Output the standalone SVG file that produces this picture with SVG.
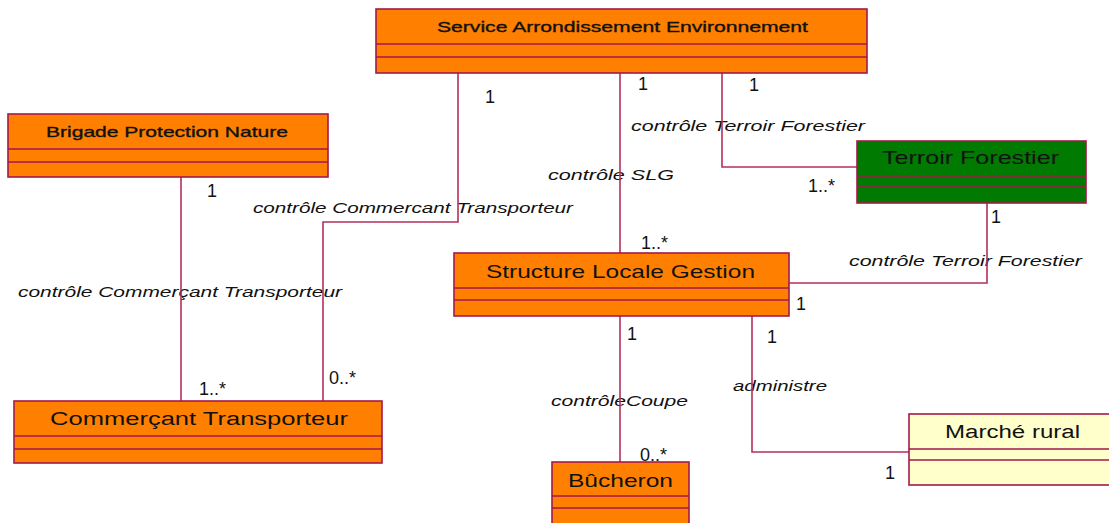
<svg xmlns="http://www.w3.org/2000/svg" width="1109" height="523" viewBox="0 0 1109 523">
  <style>
    .box { stroke: #A3194B; stroke-width: 1.6; }
    .orange { fill: #FF8000; }
    .green { fill: #007A00; }
    .yellow { fill: #FFFFCC; }
    .sep { stroke: #A3194B; stroke-width: 1.6; fill: none; }
    .title { font-family: "Liberation Sans", Arial, sans-serif; fill: #111; text-anchor: start; }
    .small { font-size: 15px; stroke: #111; stroke-width: 0.35; }
    .assoc { font-family: "Liberation Sans", Arial, sans-serif; font-style: italic; font-size: 14px; fill: #111; }
    .mult { font-family: "Liberation Sans", Arial, sans-serif; font-size: 18px; fill: #111; }
    .link { stroke: #B3305D; stroke-width: 1.6; fill: none; }
  </style>
  <rect width="1109" height="523" fill="#FFFFFF"/>

  <!-- association labels (drawn beneath the connectors) -->
  <g id="labels">
    <text class="assoc" x="631" y="131" textLength="234" lengthAdjust="spacingAndGlyphs">contrôle  Terroir Forestier</text>
    <text class="assoc" x="548" y="180" textLength="126" lengthAdjust="spacingAndGlyphs">contrôle  SLG</text>
    <text class="assoc" x="253" y="213" textLength="320" lengthAdjust="spacingAndGlyphs">contrôle  Commercant Transporteur</text>
    <text class="assoc" x="18" y="297" textLength="324" lengthAdjust="spacingAndGlyphs">contrôle  Commerçant Transporteur</text>
    <text class="assoc" x="849" y="266" textLength="233" lengthAdjust="spacingAndGlyphs">contrôle  Terroir Forestier</text>
    <text class="assoc" x="733" y="391" textLength="94" lengthAdjust="spacingAndGlyphs">administre</text>
    <text class="assoc" x="551" y="406" textLength="137" lengthAdjust="spacingAndGlyphs">contrôleCoupe</text>
  </g>

  <!-- connectors -->
  <g id="connectors">
    <path class="link" d="M458,73 V222 H323 V401"/>
    <path class="link" d="M181,177 V401"/>
    <path class="link" d="M620,73 V253"/>
    <path class="link" d="M722,73 V167 H857"/>
    <path class="link" d="M987,203 V283 H789"/>
    <path class="link" d="M620,316 V462"/>
    <path class="link" d="M752,316 V452 H909"/>
  </g>

  <!-- multiplicities -->
  <g id="multiplicities">
    <text class="mult" x="485" y="103">1</text>
    <text class="mult" x="638" y="90">1</text>
    <text class="mult" x="749" y="91">1</text>
    <text class="mult" x="207" y="197">1</text>
    <text class="mult" x="808" y="192">1..*</text>
    <text class="mult" x="991" y="223">1</text>
    <text class="mult" x="641" y="249">1..*</text>
    <text class="mult" x="796" y="310">1</text>
    <text class="mult" x="627" y="340">1</text>
    <text class="mult" x="767" y="343">1</text>
    <text class="mult" x="199" y="395">1..*</text>
    <text class="mult" x="329" y="384">0..*</text>
    <text class="mult" x="640" y="461">0..*</text>
    <text class="mult" x="885" y="479">1</text>
  </g>

  <g id="service-arrondissement">
    <rect class="box orange" x="376" y="9" width="491" height="64"/>
    <path class="sep" d="M376,44 H867 M376,57 H867"/>
    <text class="title small" x="437" y="32" textLength="371" lengthAdjust="spacingAndGlyphs">Service Arrondissement Environnement</text>
  </g>

  <g id="brigade-protection">
    <rect class="box orange" x="8" y="114" width="320" height="63"/>
    <path class="sep" d="M8,149 H328 M8,162 H328"/>
    <text class="title small" x="46" y="137" textLength="242" lengthAdjust="spacingAndGlyphs">Brigade Protection Nature</text>
  </g>

  <g id="terroir-forestier">
    <rect class="box green" x="857" y="141" width="229" height="62"/>
    <path class="sep" d="M857,176 H1086 M857,187 H1086"/>
    <text class="title" x="882" y="164" font-size="19" textLength="177" lengthAdjust="spacingAndGlyphs">Terroir Forestier</text>
  </g>

  <g id="structure-locale">
    <rect class="box orange" x="454" y="253" width="335" height="63"/>
    <path class="sep" d="M454,288 H789 M454,300 H789"/>
    <text class="title" x="486" y="278" font-size="19" textLength="269" lengthAdjust="spacingAndGlyphs">Structure Locale Gestion</text>
  </g>

  <g id="commercant-transporteur">
    <rect class="box orange" x="14" y="401" width="368" height="62"/>
    <path class="sep" d="M14,436 H382 M14,449 H382"/>
    <text class="title" x="50" y="425" font-size="18" textLength="298" lengthAdjust="spacingAndGlyphs">Commerçant Transporteur</text>
  </g>

  <g id="bucheron">
    <rect class="box orange" x="552" y="462" width="137" height="70"/>
    <path class="sep" d="M552,496 H689 M552,508 H689"/>
    <text class="title" x="568" y="487" font-size="19" textLength="105" lengthAdjust="spacingAndGlyphs">Bûcheron</text>
  </g>

  <g id="marche-rural">
    <rect class="box yellow" x="909" y="414" width="210" height="71"/>
    <path class="sep" d="M909,449 H1119 M909,460 H1119"/>
    <text class="title" x="945" y="438" font-size="18" textLength="135" lengthAdjust="spacingAndGlyphs">Marché rural</text>
  </g>
</svg>
